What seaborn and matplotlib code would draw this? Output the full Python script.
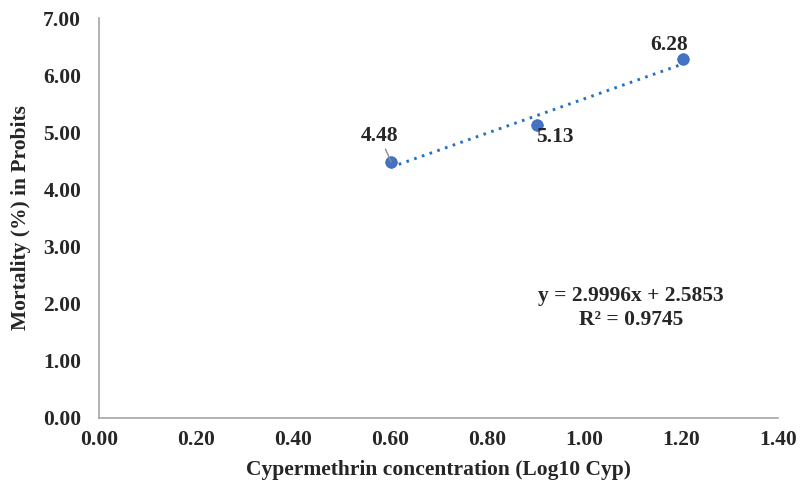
import numpy as np
import pandas as pd
import matplotlib
matplotlib.use("Agg")
import matplotlib.pyplot as plt
import seaborn as sns

log_conc = [0.602, 0.903, 1.204]
probits = [4.48, 5.13, 6.28]
point_labels = ["4.48", "5.13", "6.28"]
slope = 2.9996
intercept = 2.5853
r2 = 0.9745
xticks = [0.0, 0.2, 0.4, 0.6, 0.8, 1.0, 1.2, 1.4]
yticks = [0, 1, 2, 3, 4, 5, 6, 7]

sns.set_style("white")
plt.rcParams['font.family'] = ['Liberation Serif', 'DejaVu Serif']
plt.rcParams['font.weight'] = 'bold'

df = pd.DataFrame({"x": log_conc, "y": probits})
fit = pd.DataFrame({"x": [min(log_conc), max(log_conc)]})
fit["y"] = slope * fit["x"] + intercept

fig = plt.figure(figsize=(8, 4.87), dpi=100)
ax = fig.add_axes([0.124, 0.1417, 0.8485, 0.8213])

sns.lineplot(data=fit, x="x", y="y", ax=ax, color="#2571BF", linewidth=2.1,
             linestyle=(0, (0.9, 1.9)), zorder=2)
sns.scatterplot(data=df, x="x", y="y", ax=ax, color="#4472C4", s=70,
                edgecolor="#3A65B0", linewidth=0.5, zorder=3)

FS = 15.5
ax.set_xlim(0, 1.4)
ax.set_ylim(0, 7)
ax.set_xticks(xticks)
ax.set_yticks(yticks)
ax.set_xticklabels([f"{v:.2f}" for v in xticks], fontsize=FS, fontweight='bold')
ax.set_yticklabels([f"{v:.2f}" for v in yticks], fontsize=FS, fontweight='bold')
ax.tick_params(axis='both', length=0)
ax.tick_params(axis='y', pad=13)
ax.tick_params(axis='x', pad=9)

for s in ["top", "right"]:
    ax.spines[s].set_visible(False)
for s in ["left", "bottom"]:
    ax.spines[s].set_color("#A6A6A6")
    ax.spines[s].set_linewidth(1.2)

ax.set_xlabel("Cypermethrin concentration (Log10 Cyp)", fontsize=FS, fontweight='bold', labelpad=7)
ax.set_ylabel("Mortality (%) in Probits", fontsize=FS, fontweight='bold', labelpad=9)

# data labels
ax.annotate(point_labels[0], xy=(log_conc[0], probits[0]), xytext=(-8, 18.5),
            textcoords="offset points", ha="center", va="center", fontsize=FS, fontweight='bold',
            zorder=4,
            arrowprops=dict(arrowstyle="-", color="#8C8C8C", lw=1.0, patchA=None,
                            shrinkA=10, shrinkB=0))
ax.annotate(point_labels[1], xy=(log_conc[1], probits[1]), xytext=(13, -8.5),
            textcoords="offset points", ha="center", va="center", fontsize=FS, fontweight='bold')
ax.annotate(point_labels[2], xy=(log_conc[2], probits[2]), xytext=(-10, 10.5),
            textcoords="offset points", ha="center", va="center", fontsize=FS, fontweight='bold')

ax.text(0.7835, 0.275, f"y = {slope:.4f}x + {intercept:.4f}\nR² = {r2:.4f}",
        transform=ax.transAxes, ha="center", va="center", fontsize=FS,
        fontweight='bold', linespacing=1.25)

fig.savefig("out.png", dpi=100)
